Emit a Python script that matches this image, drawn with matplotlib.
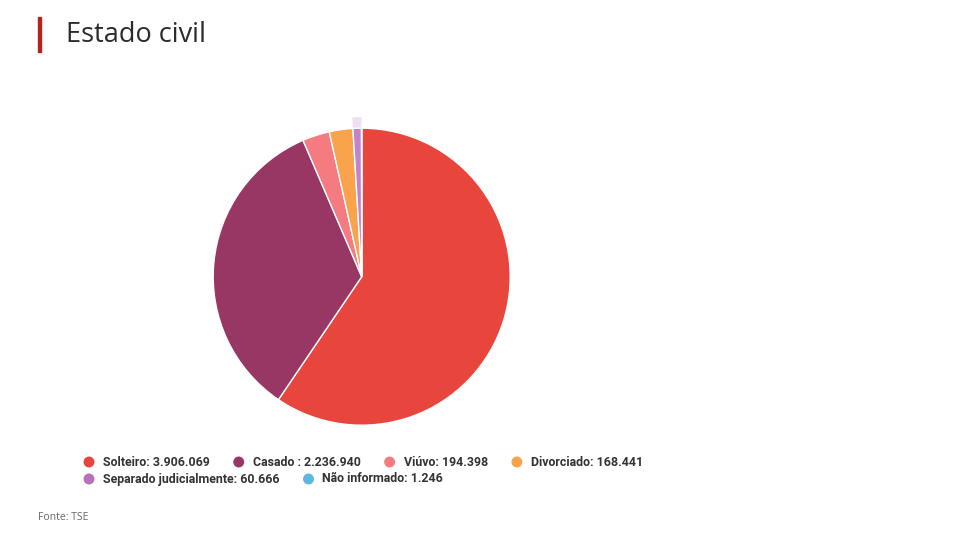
import matplotlib.pyplot as plt
from matplotlib.patches import Wedge

plt.rcParams["font.family"] = ["Open Sans", "DejaVu Sans"]

# -----------------------
# Data
# -----------------------
labels = ["Solteiro", "Casado ", "Viúvo", "Divorciado",
          "Separado judicialmente", "Não informado"]
values = [3906069, 2236940, 194398, 168441, 60666, 1246]
colors = ["#e8463c", "#993764", "#f47b80", "#f9a34c", "#c183cc", "#5bb9df"]
legend_colors = ["#e8463c", "#993764", "#f47b80", "#f9a34c", "#b86fbc", "#5bb9df"]
hover_index = 4  # slice drawn with hover halo in the original


def fmt(v):
    return f"{v:,}".replace(",", ".")


W, H = 958, 547
fig = plt.figure(figsize=(W / 100, H / 100), dpi=100, facecolor="white")

# -----------------------
# Pie
# -----------------------
cx, cy, R = 361.7, 547 - 276.7, 148.5
k = 1.2
size = 2 * R * k
ax = fig.add_axes([(cx - size / 2) / W, (cy - size / 2) / H, size / W, size / H])
wedges, _ = ax.pie(
    values,
    colors=colors,
    startangle=90,
    counterclock=False,
    radius=1,
    wedgeprops=dict(edgecolor="white", linewidth=1),
)

# hover halo around the highlighted slice
hw = wedges[hover_index]
halo = Wedge((0, 0), 1.075, hw.theta1, hw.theta2, width=0.075,
             facecolor=colors[hover_index], alpha=0.25, edgecolor="none", zorder=0)
ax.add_patch(halo)

ax.set_xlim(-k, k)
ax.set_ylim(-k, k)
ax.set_aspect("equal")
ax.axis("off")

# -----------------------
# Title + accent bar
# -----------------------
fig.patches.append(plt.Rectangle((38 / W, 1 - 52 / H), 3 / W, 35 / H,
                                 transform=fig.transFigure, color="#b5231b"))
fig.text(66 / W, 1 - 35 / H, "Estado civil", fontsize=19.5, color="#2b2b2b",
         va="center", ha="left", family=["Open Sans", "DejaVu Sans"])

# -----------------------
# Legend (flow layout like the original)
# -----------------------
lax = fig.add_axes([0, 0, 1, 1])
lax.set_xlim(0, W)
lax.set_ylim(H, 0)
lax.axis("off")

fig.canvas.draw()
renderer = fig.canvas.get_renderer()

x0, x, y = 89, 89, 462
row_h = 17
max_x = 670
for lab, val, col in zip(labels, values, legend_colors):
    txt = f"{lab}: {fmt(val)}"
    t = lax.text(0, y, txt, fontsize=8.9, fontweight="bold",
                 family=["Roboto", "DejaVu Sans"],
                 color="#333333", va="center", ha="left")
    w = t.get_window_extent(renderer).width
    if x + 14 + w > max_x:
        x = x0
        y += row_h
        t.set_y(y)
    lax.scatter([x], [y], s=62, color=col, edgecolors="none")
    t.set_x(x + 14)
    x = x + 14 + w + 29

fig.text(38 / W, 1 - 517 / H, "Fonte: TSE", fontsize=7.5, color="#666666",
         va="center", ha="left", family=["Open Sans", "DejaVu Sans"])

plt.savefig("out.png", dpi=100, facecolor="white")
plt.close()
